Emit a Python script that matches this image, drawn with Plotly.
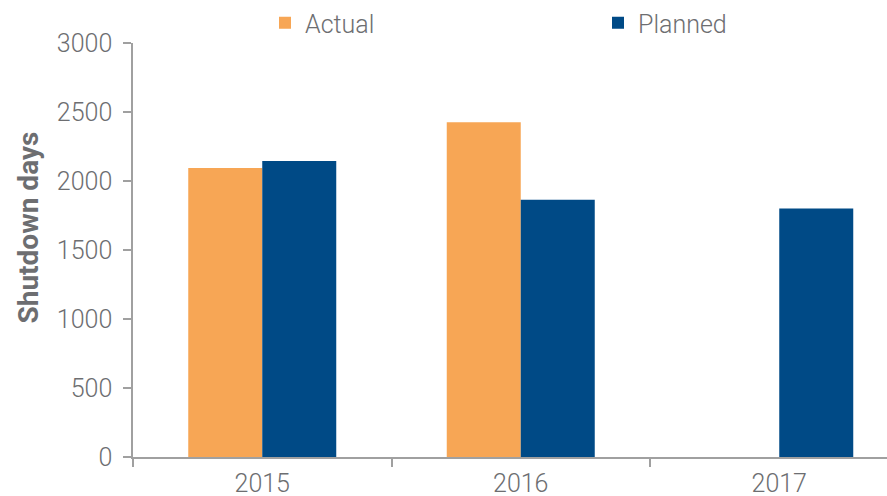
import plotly.graph_objects as go

# Shutdown days by year
years = ["2015", "2016", "2017"]
actual_days = [2095, 2425, None]
planned_days = [2145, 1865, 1800]
y_ticks = [0, 500, 1000, 1500, 2000, 2500, 3000]

ORANGE = "#F7A655"
NAVY = "#004A86"
GREY_TEXT = "#6D6E71"
AXIS_GREY = "#A0A0A0"

fig = go.Figure()
fig.add_trace(go.Bar(
    name="Actual", x=years, y=actual_days,
    marker=dict(color=ORANGE, line=dict(width=0)),
))
fig.add_trace(go.Bar(
    name="Planned", x=years, y=planned_days,
    marker=dict(color=NAVY, line=dict(width=0)),
))

W, H = 887, 496
ML, MT, MB = 133, 43, 39
cat_px = 258.5
x_hi = -0.5 + (W - ML) / cat_px

fig.update_layout(
    width=W, height=H,
    margin=dict(l=ML, r=0, t=MT, b=MB, pad=0, autoexpand=False),
    paper_bgcolor="white", plot_bgcolor="white",
    barmode="group", bargap=0.4275, bargroupgap=0,
    font=dict(family="Roboto", size=25, color=GREY_TEXT, weight=300),
    showlegend=True,
    legend=dict(
        orientation="h", xref="container", yref="container",
        x=265 / W, y=1, xanchor="left", yanchor="top",
        entrywidth=288, entrywidthmode="pixels",
        font=dict(family="Roboto", size=25, color=GREY_TEXT, weight=300),
        bgcolor="rgba(0,0,0,0)",
    ),
    xaxis=dict(
        type="category", range=[-0.5, x_hi],
        showline=True, linecolor=AXIS_GREY, linewidth=1.5,
        ticks="outside", tickson="boundaries", ticklen=8, tickwidth=1.5,
        tickcolor=AXIS_GREY, showgrid=False, zeroline=False,
        tickfont=dict(family="Roboto", size=25, color=GREY_TEXT, weight=300),
        ticklabelstandoff=3,
    ),
    yaxis=dict(
        range=[0, 3000], tickvals=y_ticks,
        showline=True, linecolor=AXIS_GREY, linewidth=1.5,
        ticks="outside", ticklen=8, tickwidth=1.5, tickcolor=AXIS_GREY,
        showgrid=False, zeroline=False,
        tickfont=dict(family="Roboto", size=25, color=GREY_TEXT, weight=300),
        ticklabelstandoff=6,
    ),
    annotations=[dict(
        text="Shutdown days", textangle=-90,
        xref="paper", yref="paper",
        x=(28 - ML) / (W - ML), y=(H - MB - 227.5) / (H - MT - MB),
        xanchor="center", yanchor="middle", showarrow=False,
        font=dict(family="Roboto", size=28, color=GREY_TEXT, weight=700),
    )],
)

fig.write_html("out.html")
